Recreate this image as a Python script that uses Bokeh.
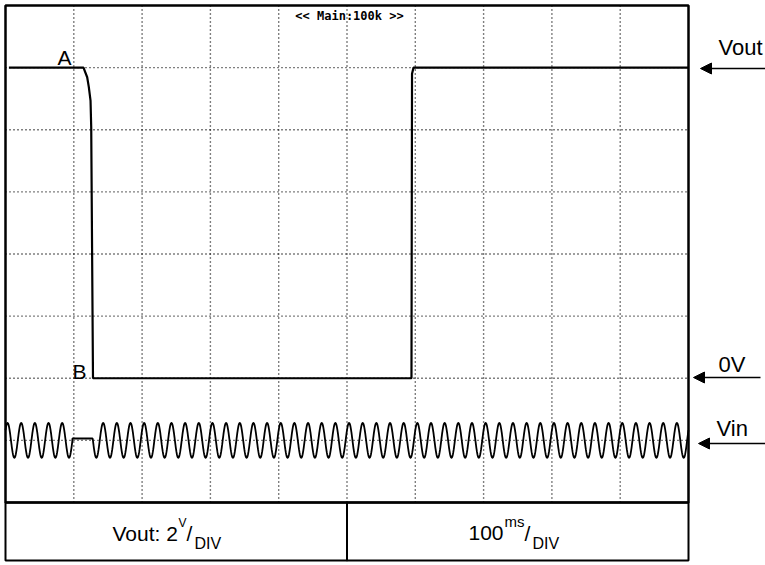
import numpy as np
from bokeh.plotting import figure
from bokeh.models import Range1d, Label, Arrow, NormalHead
from bokeh.embed import file_html
from bokeh.resources import INLINE

# ---------------- data (time in ms, 100 ms/div; voltage in V, 2 V/div) ----------------
time_divisions = [100, 200, 300, 400, 500, 600, 700, 800, 900]
volt_divisions = [-2, 0, 2, 4, 6, 8, 10]
screen_t = [0, 1000]
screen_v = [-4, 12]

# Vout trace
vout_t = [5, 114.2, 119.6, 122.0, 124.5, 125.5, 128.1, 594.4, 595.2, 597.4, 1000]
vout_v = [10, 10, 9.69, 9.37, 8.94, 8.08, 0, 0, 9.8, 10, 10]

# Vin trace: 50 Hz mains sine
vin_offset = -2.0
vin_amplitude = 0.56
vin_period_ms = 20.0
vin_first_peak_ms = 23.0
vin_gap_ms = [98.0, 127.5]
vin_gap_level = -1.94

# ---------------- layout helpers (picture pixels -> data) ----------------
W, H = 765, 565
X0, X1 = 5, 688        # x of the screen's left / right border
Y0, Y1 = 5, 502        # y of the screen's top / bottom border
PX_PER_MS = (X1 - X0) / (screen_t[1] - screen_t[0])
PX_PER_V = (Y1 - Y0) / (screen_v[1] - screen_v[0])


def X(px):
    return screen_t[0] + (px - X0) / PX_PER_MS


def Y(py):
    return screen_v[1] - (py - Y0) / PX_PER_V


p = figure(width=W, height=H,
           x_range=Range1d(X(0), X(W)), y_range=Range1d(Y(H), Y(0)),
           output_backend="svg", toolbar_location=None, min_border=0,
           x_axis_type=None, y_axis_type=None)
p.grid.visible = False
p.outline_line_color = None
p.background_fill_color = "white"

# dotted graticule
p.segment(x0=time_divisions, y0=[screen_v[0]] * len(time_divisions),
          x1=time_divisions, y1=[screen_v[1]] * len(time_divisions),
          line_color="black", line_width=1.4, line_dash="1 3")
p.segment(x0=[screen_t[0]] * len(volt_divisions), y0=volt_divisions,
          x1=[screen_t[1]] * len(volt_divisions), y1=volt_divisions,
          line_color="black", line_width=1.4, line_dash="1 3")

# Vin trace
t = np.arange(screen_t[0], screen_t[1] + 0.001, 0.25)
vin = vin_offset + vin_amplitude * np.cos(2 * np.pi * (t - vin_first_peak_ms) / vin_period_ms)
vin[(t >= vin_gap_ms[0]) & (t <= vin_gap_ms[1])] = vin_gap_level
p.line(t, vin, line_color="black", line_width=1.8)

# Vout trace
p.line(vout_t, vout_v, line_color="black", line_width=2.2)

# screen frame and bottom info box
box_bottom = Y(560)
p.quad(left=[screen_t[0]], right=[screen_t[1]], bottom=[screen_v[0]], top=[screen_v[1]],
       fill_color=None, line_color="black", line_width=2.5)
p.quad(left=[screen_t[0], 500], right=[500, screen_t[1]], bottom=[box_bottom] * 2,
       top=[screen_v[0]] * 2, fill_color=None, line_color="black", line_width=2)

FONT = "Liberation Sans"


def lab(px, py, text, size, font=FONT, align="left", style="normal"):
    # py is the y of the vertical centre of the glyphs
    p.add_layout(Label(x=X(px), y=Y(py), text=text, text_font=font,
                       text_font_size=f"{size}px", text_align=align,
                       text_baseline="middle", text_color="black", text_font_style=style))


lab(57, 57, "A", 21)
lab(72, 371, "B", 21)
lab(718, 46.5, "Vout", 22)
lab(718, 363.5, "0V", 22)
lab(716, 428, "Vin", 22)
lab(349, 15, "<< Main:100k >>", 12, font="DejaVu Sans Mono", align="center", style="bold")

# bottom box texts
lab(112, 532.5, "Vout: 2", 21)
lab(178, 522.5, "V", 12)
lab(186, 533, "/", 21)
lab(194, 542.5, "DIV", 16)
lab(468, 532.5, "100", 21)
lab(504, 521, "ms", 15)
lab(524, 533, "/", 21)
lab(532, 542.5, "DIV", 16)

# arrows at the right
for xs, xe, py in [(765, 700, 68), (760, 693, 377), (765, 698, 443)]:
    p.add_layout(Arrow(x_start=X(xs), y_start=Y(py), x_end=X(xe), y_end=Y(py),
                       line_color="black", line_width=1.5,
                       end=NormalHead(size=11, fill_color="black", line_color="black")))

open("out.html", "w").write(file_html(p, INLINE))
